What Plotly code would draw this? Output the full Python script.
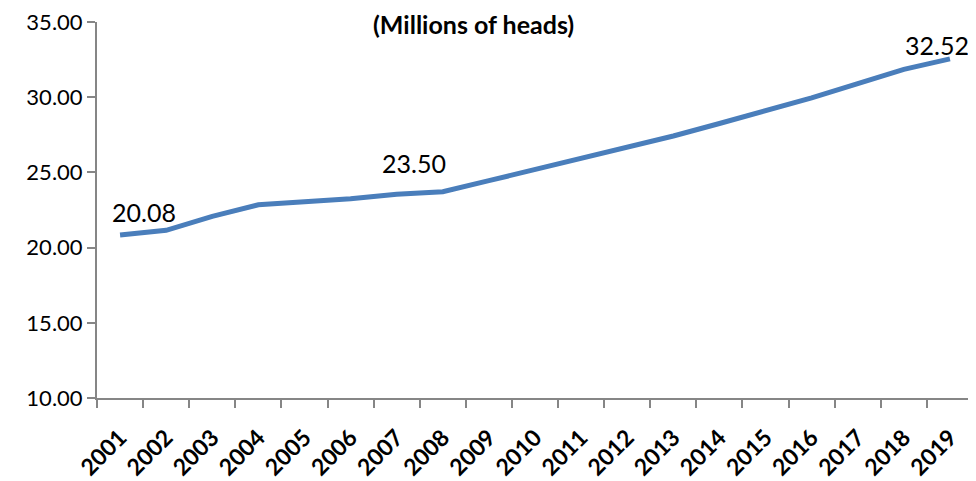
import plotly.graph_objects as go

years = [str(y) for y in range(2001, 2020)]
heads = [20.84, 21.15, 22.08, 22.85, 23.05, 23.25, 23.55, 23.72, 24.45, 25.20,
         25.92, 26.65, 27.42, 28.25, 29.08, 29.95, 30.90, 31.85, 32.55]
label_years = ["2001", "2007", "2019"]
label_texts = ["20.08", "23.50", "32.52"]
label_shift = [(24, 23), (17, 31), (-13, 14)]
y_ticks = [10, 15, 20, 25, 30, 35]
title_text = "(Millions of heads)"

fig = go.Figure()
fig.add_trace(go.Scatter(x=years, y=heads, mode="lines",
                         line=dict(color="#4A7EBB", width=5), hoverinfo="skip"))

for yr, txt, (dx, dy) in zip(label_years, label_texts, label_shift):
    idx = years.index(yr)
    fig.add_annotation(x=idx, y=heads[idx], text=txt, showarrow=False,
                       xshift=dx, yshift=dy,
                       font=dict(family="Lato", size=25, color="#000000"))

fig.add_annotation(x=0.43, y=1 + 14 / 376, xref="paper", yref="paper", text="<b>" + title_text + "</b>",
                   showarrow=False, yanchor="top", borderpad=0,
                   font=dict(family="Lato", size=25, color="#000000"))

fig.update_layout(
    width=976, height=481,
    margin=dict(l=89, r=11, t=14, b=91),
    paper_bgcolor="white", plot_bgcolor="white",
    showlegend=False,
)
fig.update_xaxes(type="category", showgrid=False, showline=True, linecolor="#868686", linewidth=2,
                 ticks="outside", ticklen=8, tickcolor="#868686", tickwidth=2, tickson="boundaries",
                 tickangle=-45, ticklabelstandoff=15, ticklabeloverflow="allow",
                 tickfont=dict(family="Lato", size=23, color="#000000", weight="bold"),
                 range=[-0.5, 18.5], automargin=False)
fig.update_yaxes(range=[10, 35], tickvals=y_ticks, tickformat=".2f", showgrid=False, zeroline=False,
                 showline=True, linecolor="#868686", linewidth=2, ticklabeloverflow="allow",
                 ticks="outside", ticklen=8, tickcolor="#868686", tickwidth=2,
                 tickfont=dict(family="Lato", size=22, color="#000000"), automargin=False)

fig.write_html("out.html")
